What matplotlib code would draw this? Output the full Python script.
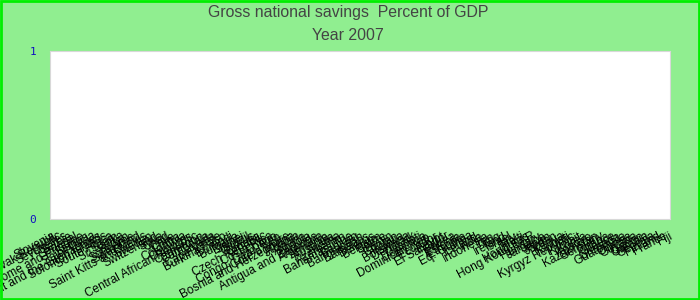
import numpy as np
import matplotlib.pyplot as plt
from matplotlib.patches import Rectangle

countries = [
    "Slovenia", "Slovak Republic", "Seychelles", "Serbia", "Senegal",
    "Sao Tome and Principe", "Samoa", "Saint Lucia",
    "Saint Vincent and the Grenadines", "Solomon Islands", "South Africa",
    "Spain", "Sri Lanka", "Sudan", "Suriname", "Swaziland",
    "Saint Kitts and Nevis", "Sweden", "Switzerland", "Syria", "Chad",
    "Chile", "China", "Colombia", "Comoros", "Central African Republic",
    "Cameroon", "Cambodia", "Canada", "Cape Verde", "Burkina Faso",
    "Burundi", "Bulgaria", "Brunei", "Brazil", "Cyprus", "Croatia",
    "Czech Republic", "Costa Rica", "Congo", "Congo, Dem. Rep.",
    "Cote d'Ivoire", "Bosnia and Herzegovina", "Albania", "Algeria",
    "Angola", "Antigua and Barbuda", "Argentina", "Armenia", "Australia",
    "Austria", "Azerbaijan", "Bahamas, The", "Bahrain", "Bangladesh",
    "Barbados", "Belarus", "Belgium", "Belize", "Benin", "Bhutan",
    "Bolivia", "Botswana", "Denmark", "Djibouti", "Dominica",
    "Dominican Rep.", "Ecuador", "Egypt", "El Salvador", "Eritrea",
    "Estonia", "Ethiopia", "Eq. Guinea", "Iceland", "India",
    "Indonesia", "Iran", "Iraq", "Ireland", "Israel", "Italy", "Haiti",
    "Honduras", "Hong Kong SAR", "Hungary", "Jamaica", "Japan", "Jordan",
    "Kenya", "Kiribati", "Kyrgyz Republic", "Kuwait", "Korea",
    "Kosovo", "Kazakhstan", "Germany", "Ghana", "Greece", "Grenada",
    "Guatemala", "Guinea", "Guyana", "Gabon", "Gambia", "Georgia",
    "Finland", "France", "Fiji",
]
savings = [np.nan] * len(countries)  # no values shown for 2007

fig = plt.figure(figsize=(7, 3), dpi=100, facecolor='#90ee90')
fig.patches.append(Rectangle((0.0015, 0.003), 0.997, 0.994, transform=fig.transFigure,
                             fill=False, edgecolor='#00ee00', linewidth=2))

ax = fig.add_axes([50 / 700, 1 - 219 / 300, 620 / 700, 168 / 300])
ax.set_facecolor('white')

x = np.arange(len(countries))
ax.bar(x, savings, color='#4572a7')

ax.set_xlim(-0.4, len(countries) - 0.8)
ax.set_ylim(0, 1)
ax.set_yticks([0, 1])
ax.set_yticklabels(['0', '1'], family='DejaVu Sans Mono', fontsize=8, color='#1010c0')
ax.set_xticks(x)
ax.set_xticklabels(countries, rotation=28, ha='right', rotation_mode='anchor',
                   fontsize=8.5, family='Liberation Sans', color='#000000')
ax.tick_params(axis='y', length=0, pad=10)
ax.tick_params(axis='x', length=0, pad=8)
for s in ax.spines.values():
    s.set_color('#d8d8d8')

fig.text(0.497, 1 - 13 / 300, "Gross national savings  Percent of GDP", ha='center', va='center',
         fontsize=11.4, family='Liberation Sans', color='#444444')
fig.text(0.497, 1 - 36 / 300, "Year 2007", ha='center', va='center',
         fontsize=11.4, family='Liberation Sans', color='#444444')

plt.savefig('out.png', dpi=100, facecolor=fig.get_facecolor())
